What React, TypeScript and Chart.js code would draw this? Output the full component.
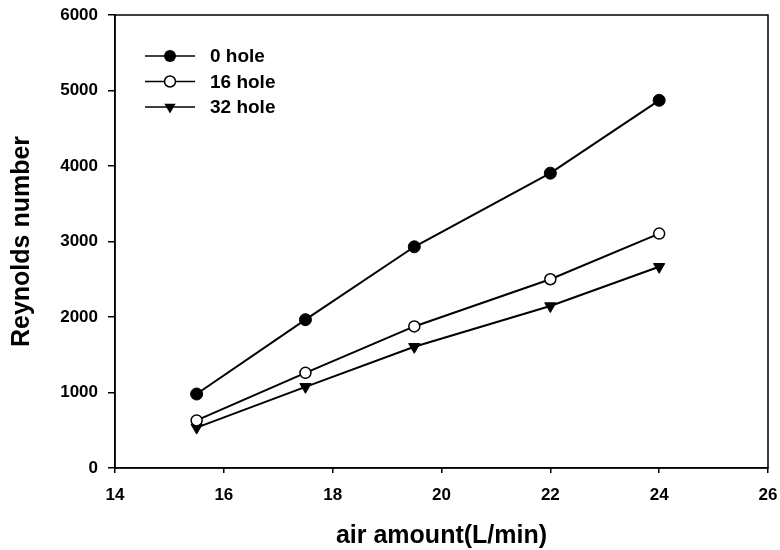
import React, { useEffect, useRef } from "react";
import { Chart, registerables } from "chart.js";

Chart.register(...registerables);

const airAmount = [15.5, 17.5, 19.5, 22, 24];
const hole0 = [980, 1965, 2930, 3905, 4870];
const hole16 = [630, 1260, 1875, 2500, 3105];
const hole32 = [535, 1075, 1605, 2145, 2665];
const seriesLabels = ["0 hole", "16 hole", "32 hole"];
const xTicks = { min: 14, max: 26, step: 2 };
const yTicks = { min: 0, max: 6000, step: 1000 };

const FONT = "Arial, 'Liberation Sans', Helvetica, sans-serif";

function drawMarker(ctx: CanvasRenderingContext2D, kind: string, x: number, y: number) {
  ctx.save();
  ctx.strokeStyle = "#000";
  ctx.lineWidth = 1.5;
  if (kind === "filled") {
    ctx.fillStyle = "#000";
    ctx.beginPath();
    ctx.arc(x, y, 6, 0, Math.PI * 2);
    ctx.fill();
  } else if (kind === "open") {
    ctx.fillStyle = "#fff";
    ctx.beginPath();
    ctx.arc(x, y, 5.5, 0, Math.PI * 2);
    ctx.fill();
    ctx.stroke();
  } else {
    ctx.fillStyle = "#000";
    const r = 6.5;
    ctx.beginPath();
    ctx.moveTo(x - r * 0.87, y - r * 0.5);
    ctx.lineTo(x + r * 0.87, y - r * 0.5);
    ctx.lineTo(x, y + r);
    ctx.closePath();
    ctx.fill();
  }
  ctx.restore();
}

const framePlugin = {
  id: "frame",
  afterDatasetsDraw(chart: any) {
    const { ctx, chartArea } = chart;
    ctx.save();
    ctx.strokeStyle = "#000";
    ctx.lineWidth = 1.5;
    ctx.strokeRect(chartArea.left, chartArea.top, chartArea.right - chartArea.left, chartArea.bottom - chartArea.top);
    const kinds = ["filled", "open", "tri"];
    const x0 = chartArea.left + 30;
    const x1 = chartArea.left + 80;
    const xm = (x0 + x1) / 2;
    const y0 = chartArea.top + 41;
    const dy = 25.5;
    ctx.font = `bold 19px ${FONT}`;
    ctx.textBaseline = "middle";
    ctx.textAlign = "left";
    ctx.fillStyle = "#000";
    seriesLabels.forEach((lab, i) => {
      const y = y0 + i * dy;
      ctx.lineWidth = 1.5;
      ctx.beginPath();
      ctx.moveTo(x0, y);
      ctx.lineTo(x1, y);
      ctx.stroke();
      drawMarker(ctx, kinds[i], xm, y);
      ctx.fillStyle = "#000";
      ctx.fillText(lab, x1 + 15, y + 1);
    });
    ctx.restore();
  },
};

export default function App() {
  const ref = useRef<HTMLCanvasElement | null>(null);
  useEffect(() => {
    if (!ref.current) return;
    const mk = (vals: number[]) => airAmount.map((x, i) => ({ x, y: vals[i] }));
    const chart = new Chart(ref.current, {
      type: "line",
      data: {
        datasets: [
          {
            label: seriesLabels[0],
            data: mk(hole0),
            borderColor: "#000",
            backgroundColor: "#000",
            borderWidth: 2,
            pointStyle: "circle",
            pointRadius: 6,
            pointBackgroundColor: "#000",
            pointBorderColor: "#000",
            pointBorderWidth: 1,
          },
          {
            label: seriesLabels[1],
            data: mk(hole16),
            borderColor: "#000",
            backgroundColor: "#fff",
            borderWidth: 2,
            pointStyle: "circle",
            pointRadius: 5.5,
            pointBackgroundColor: "#fff",
            pointBorderColor: "#000",
            pointBorderWidth: 1.5,
          },
          {
            label: seriesLabels[2],
            data: mk(hole32),
            borderColor: "#000",
            backgroundColor: "#000",
            borderWidth: 2,
            pointStyle: "triangle",
            rotation: 180,
            pointRadius: 6.5,
            pointBackgroundColor: "#000",
            pointBorderColor: "#000",
            pointBorderWidth: 1,
          } as any,
        ],
      },
      options: {
        responsive: false,
        animation: false,
        layout: { padding: { left: 0, top: 15, right: 12, bottom: 0 } },
        plugins: { legend: { display: false }, tooltip: { enabled: false } },
        scales: {
          x: {
            type: "linear",
            min: xTicks.min,
            max: xTicks.max,
            ticks: {
              stepSize: xTicks.step,
              color: "#000",
              font: { family: FONT, size: 17, weight: "bold" },
              padding: 12,
              maxRotation: 0,
              callback: (v: any) => String(v),
            },
            grid: { drawOnChartArea: false, drawTicks: true, tickLength: 5, color: "#000", lineWidth: 1.5 },
            border: { display: true, color: "#000", width: 1.5 },
            title: {
              display: true,
              text: "air amount(L/min)",
              color: "#000",
              font: { family: FONT, size: 25, weight: "bold", lineHeight: 1 },
              padding: { top: 0, bottom: 1 },
            },
            afterFit(scale: any) {
              scale.height = 82;
              scale.paddingLeft = 0;
              scale.paddingRight = 0;
            },
          },
          y: {
            type: "linear",
            min: yTicks.min,
            max: yTicks.max,
            ticks: {
              stepSize: yTicks.step,
              color: "#000",
              font: { family: FONT, size: 17, weight: "bold" },
              padding: 10,
              callback: (v: any) => String(v),
            },
            grid: { drawOnChartArea: false, drawTicks: true, tickLength: 7, color: "#000", lineWidth: 1.5 },
            border: { display: true, color: "#000", width: 1.5 },
            title: {
              display: true,
              text: "Reynolds number",
              color: "#000",
              font: { family: FONT, size: 25, weight: "bold", lineHeight: 1 },
              padding: { top: 10, bottom: 0 },
            },
            afterFit(scale: any) {
              scale.width = 115;
              scale.paddingTop = 0;
              scale.paddingBottom = 0;
            },
          },
        },
      },
      plugins: [framePlugin],
    });
    return () => chart.destroy();
  }, []);
  return (
    <div style={{ position: "fixed", left: 0, top: 0, width: 780, height: 550, background: "#fff" }}>
      <canvas ref={ref} width={780} height={550} />
    </div>
  );
}
